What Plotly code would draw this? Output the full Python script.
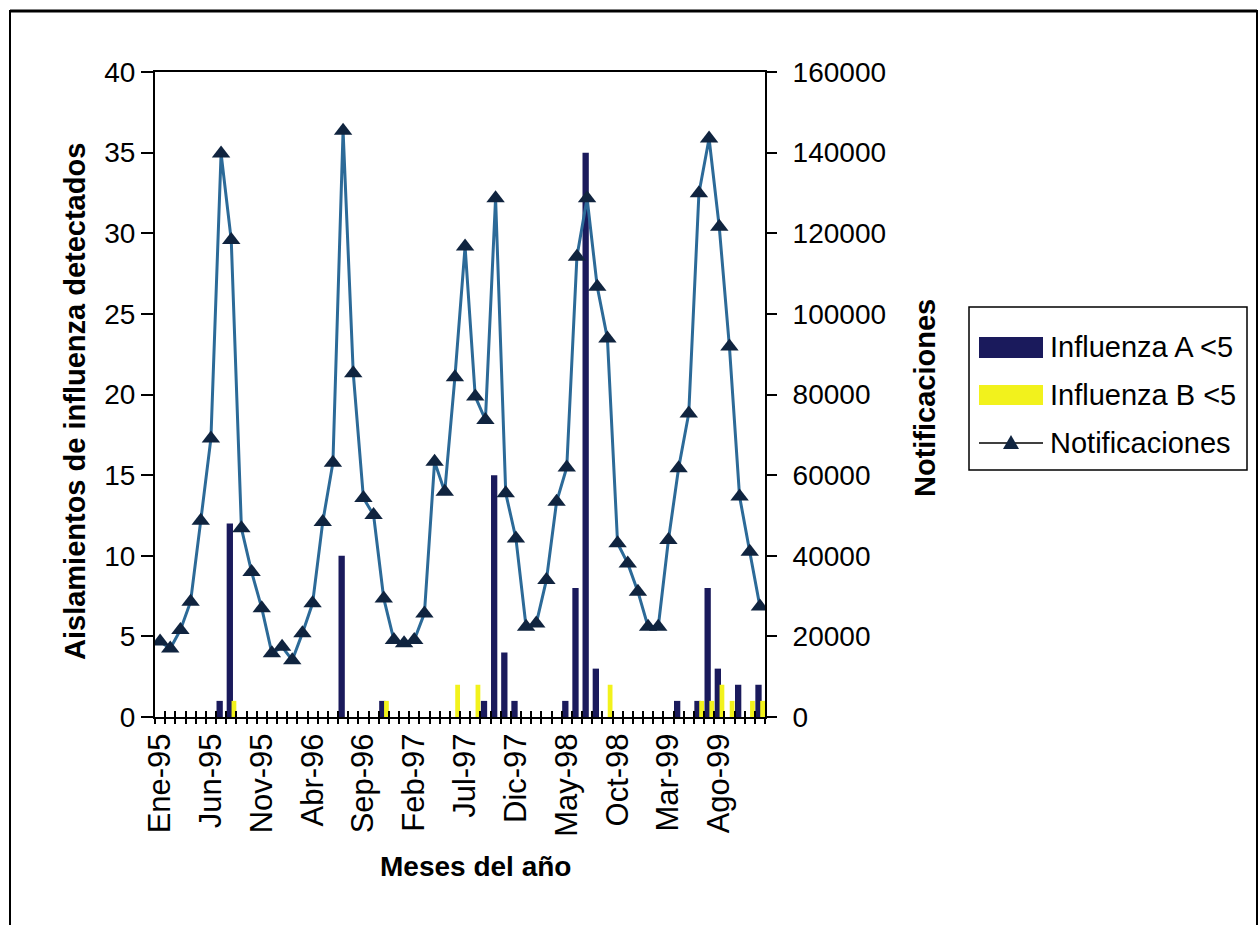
import plotly.graph_objects as go

# --- data -----------------------------------------------------------------
MESES = ["Ene", "Feb", "Mar", "Abr", "May", "Jun",
         "Jul", "Ago", "Sep", "Oct", "Nov", "Dic"]
ANIOS = ["95", "96", "97", "98", "99"]
meses_anio = [f"{m}-{a}" for a in ANIOS for m in MESES]

# influenza A isolates in children under 5, per month (Ene-95 .. Dic-99)
influenza_a = [0, 0, 0, 0, 0, 0, 1, 12, 0, 0, 0, 0,
               0, 0, 0, 0, 0, 0, 10, 0, 0, 0, 1, 0,
               0, 0, 0, 0, 0, 0, 0, 0, 1, 15, 4, 1,
               0, 0, 0, 0, 1, 8, 35, 3, 0, 0, 0, 0,
               0, 0, 0, 1, 0, 1, 8, 3, 0, 2, 0, 2]

# influenza B isolates in children under 5, per month
influenza_b = [0, 0, 0, 0, 0, 0, 0, 1, 0, 0, 0, 0,
               0, 0, 0, 0, 0, 0, 0, 0, 0, 0, 1, 0,
               0, 0, 0, 0, 0, 2, 0, 2, 0, 0, 0, 0,
               0, 0, 0, 0, 0, 0, 0, 0, 2, 0, 0, 0,
               0, 0, 0, 0, 0, 1, 1, 2, 1, 0, 1, 1]

# monthly notifications (right axis)
notificaciones = [18700, 17000, 21600, 28600, 48700, 69100,
                  139800, 118300, 46800, 36000, 27000, 15800,
                  17400, 14100, 20800, 28200, 48400, 63100,
                  145400, 85300, 54300, 50100, 29400, 19100,
                  18300, 19100, 25700, 63300, 55900, 84300,
                  116700, 79500, 73700, 128700, 55500, 44300,
                  22400, 23200, 34000, 53400, 61900, 114200,
                  128700, 106700, 93900, 43100, 38100, 31100,
                  22400, 22400, 43900, 61700, 75300, 129900,
                  143500, 121600, 91900, 54700, 41000, 27400]

etiquetas_x = meses_anio[::5]
ticks_izq = [0, 5, 10, 15, 20, 25, 30, 35, 40]
ticks_der = [0, 20000, 40000, 60000, 80000, 100000, 120000, 140000, 160000]

# --- styling --------------------------------------------------------------
NAVY = "#1a1a5c"
YELLOW = "#f2f21c"
LINE = "#2c6a98"
MARK = "#10243f"
FONT = "Liberation Sans, Arial, sans-serif"

W, H = 1260, 925
ML, MR, MT, MB = 155, 495, 72, 208
PW, PH = W - ML - MR, H - MT - MB


def fx(px):
    """pixel column -> paper x"""
    return (px - ML) / PW


def fy(py):
    """pixel row -> paper y"""
    return (H - MB - py) / PH


fig = go.Figure()

fig.add_bar(x=meses_anio, y=influenza_a, name="Influenza A <5",
            marker=dict(color=NAVY, line_width=0),
            offset=-0.45, width=0.62, showlegend=False)
fig.add_bar(x=meses_anio, y=influenza_b, name="Influenza B <5",
            marker=dict(color=YELLOW, line_width=0),
            offset=0.03, width=0.47, showlegend=False)
fig.add_scatter(x=meses_anio, y=notificaciones, yaxis="y2",
                name="Notificaciones", mode="lines+markers",
                line=dict(color=LINE, width=3),
                marker=dict(symbol="triangle-up", size=16, color=MARK,
                            line=dict(width=0)),
                showlegend=False)

# helper traces that carry the category-boundary tick axes (nothing visible)
boundaries = [k - 0.5 for k in range(61)]
for ax in ("x2", "x3"):
    fig.add_scatter(x=[-0.5, 59.5], y=[0, 0], xaxis=ax, yaxis="y",
                    mode="markers", marker=dict(size=1, opacity=0),
                    hoverinfo="skip", showlegend=False)

tick_font = dict(family=FONT, size=28, color="black")

fig.update_layout(
    width=W, height=H, autosize=False,
    margin=dict(l=ML, r=MR, t=MT, b=MB, pad=0),
    paper_bgcolor="white", plot_bgcolor="white",
    barmode="overlay",
    showlegend=False,
    xaxis=dict(type="category", categoryorder="array",
               categoryarray=meses_anio, range=[-0.5, 59.5],
               tickmode="array", tickvals=etiquetas_x, ticktext=etiquetas_x,
               ticks="", tickangle=-90, ticklabelstandoff=2,
               tickfont=dict(family=FONT, size=31, color="black"),
               showline=True, linecolor="black", linewidth=2, mirror=True,
               showgrid=False, zeroline=False),
    xaxis2=dict(overlaying="x", anchor="y", side="bottom", type="linear",
                range=[-0.5, 59.5], tickmode="array", tickvals=boundaries,
                ticks="outside", ticklen=6, tickwidth=1.5, tickcolor="black",
                showticklabels=False, showgrid=False, showline=False,
                zeroline=False),
    xaxis3=dict(overlaying="x", anchor="y", side="bottom", type="linear",
                range=[-0.5, 59.5], tickmode="array", tickvals=boundaries,
                ticks="inside", ticklen=6, tickwidth=1.5, tickcolor="black",
                showticklabels=False, showgrid=False, showline=False,
                zeroline=False),
    yaxis=dict(range=[0, 40], tickmode="array", tickvals=ticks_izq,
               ticks="outside", ticklen=12, tickwidth=1.5, tickcolor="black",
               tickfont=tick_font, showline=True, linecolor="black",
               linewidth=2, showgrid=False, zeroline=False),
    yaxis2=dict(overlaying="y", side="right", anchor="x",
                range=[0, 160000], tickmode="array", tickvals=ticks_der,
                tickformat="d", ticks="outside", ticklen=10, tickwidth=1.5,
                tickcolor="black", ticklabelstandoff=10, tickfont=tick_font,
                showline=True, linecolor="black", linewidth=2,
                showgrid=False, zeroline=False),
)

# axis titles
title_font = dict(family=FONT, size=29, color="black")
fig.add_annotation(text="<b>Aislamientos de influenza detectados</b>",
                   x=fx(75), y=fy(402), xref="paper", yref="paper",
                   textangle=-90, showarrow=False, font=title_font,
                   xanchor="center", yanchor="middle")
fig.add_annotation(text="<b>Notificaciones</b>",
                   x=fx(925), y=fy(398), xref="paper", yref="paper",
                   textangle=-90, showarrow=False, font=title_font,
                   xanchor="center", yanchor="middle")
fig.add_annotation(text="<b>Meses del año</b>",
                   x=fx(475), y=fy(866), xref="paper", yref="paper",
                   showarrow=False,
                   font=dict(family=FONT, size=28, color="black"),
                   xanchor="center", yanchor="middle")

# legend box
fig.add_shape(type="rect", xref="paper", yref="paper",
              x0=fx(969), x1=fx(1247), y0=fy(470), y1=fy(307),
              line=dict(color="black", width=1.5), fillcolor="white")
fig.add_shape(type="rect", xref="paper", yref="paper",
              x0=fx(979), x1=fx(1043), y0=fy(358), y1=fy(337),
              line_width=0, fillcolor=NAVY)
fig.add_shape(type="rect", xref="paper", yref="paper",
              x0=fx(979), x1=fx(1043), y0=fy(405), y1=fy(385),
              line_width=0, fillcolor=YELLOW)
fig.add_shape(type="line", xref="paper", yref="paper",
              x0=fx(979), x1=fx(1043), y0=fy(443), y1=fy(443),
              line=dict(color="black", width=1.5))
fig.add_shape(type="path", xref="paper", yref="paper",
              path=(f"M {fx(1011)} {fy(435)} L {fx(1019)} {fy(449)} "
                    f"L {fx(1003)} {fy(449)} Z"),
              line_width=0, fillcolor=MARK)
leg_font = dict(family=FONT, size=29, color="black")
for txt, yy in [("Influenza A <5", 347), ("Influenza B <5", 395),
                ("Notificaciones", 443)]:
    fig.add_annotation(text=txt, x=fx(1048), y=fy(yy), xref="paper",
                       yref="paper", showarrow=False, font=leg_font,
                       xanchor="left", yanchor="middle")

# outer frame
fig.add_shape(type="rect", xref="paper", yref="paper",
              x0=fx(10), x1=fx(1257), y0=fy(940), y1=fy(11),
              line=dict(color="black", width=2))
fig.add_shape(type="line", xref="paper", yref="paper",
              x0=fx(10), x1=fx(1257), y0=fy(11), y1=fy(11),
              line=dict(color="black", width=3))

fig.write_html("out.html")
